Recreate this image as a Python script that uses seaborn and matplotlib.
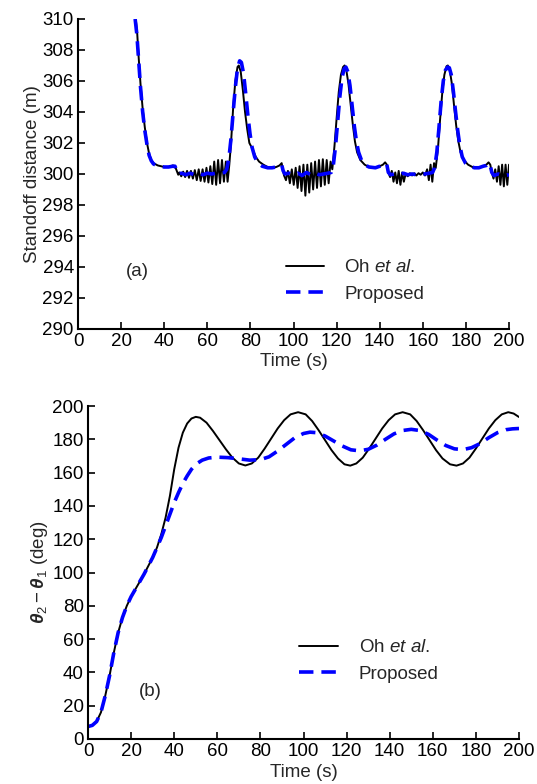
import numpy as np
import pandas as pd
import matplotlib
matplotlib.use("Agg")
import matplotlib.pyplot as plt
import seaborn as sns

sns.set_style("ticks")
plt.rcParams['font.family'] = ['Liberation Sans', 'DejaVu Sans']
plt.rcParams['mathtext.fontset'] = 'custom'
plt.rcParams['mathtext.rm'] = 'Liberation Sans'
plt.rcParams['mathtext.it'] = 'Liberation Sans:italic'
plt.rcParams['mathtext.bf'] = 'Liberation Sans:bold'
plt.rcParams['mathtext.bfit'] = 'Liberation Sans:italic:bold'

# === (a) standoff distance ===
oh_a_t = [26.8, 27.5, 28.0, 29.0, 30.0, 31.0, 32.0, 33.0, 34.0, 35.0, 37.0, 40.0, 42.0, 44.0, 45.0, 45.8, 46.5,
          47.0, 47.9, 48.8, 49.7, 50.6, 51.5, 52.4, 53.3, 54.2, 55.1, 56.0, 56.9, 57.8, 58.7, 59.6, 60.5, 61.4,
          62.3, 63.2, 64.1, 65.0, 65.9, 66.8, 67.7, 68.6, 69.4, 70.2,
          71.0, 72.0, 73.0, 74.0, 74.6, 75.5, 76.5, 77.5, 78.5, 79.5, 81.0, 82.5, 84.0, 86.0, 88.0, 90.0, 92.0,
          93.5, 94.5, 95.0, 95.6,
          96.5, 97.4, 98.3, 99.2, 100.1, 101.0, 101.9, 102.8, 103.7, 104.6, 105.5, 106.4, 107.3, 108.2, 109.1,
          110.0, 110.9, 111.8, 112.7, 113.6, 114.5, 115.4, 116.3, 117.2, 118.0,
          119.0, 120.0, 121.0, 122.0, 123.0, 123.7, 124.5, 125.5, 126.5, 127.5, 128.5, 129.5, 131.0, 133.0,
          135.0, 138.0, 140.0, 141.5, 142.5, 143.3, 144.0,
          144.8, 145.6, 146.4, 147.2, 148.0, 148.8, 149.6, 150.4, 151.2, 152.0, 153.0, 154.0, 155.0, 156.0,
          157.0, 158.0, 159.0, 160.0, 161.0, 162.0, 162.8, 163.6, 164.4, 165.2, 166.0,
          167.0, 168.0, 169.0, 170.0, 171.0, 171.6, 172.5, 173.5, 174.5, 175.5, 176.5, 177.5, 179.0, 181.0,
          183.0, 186.0, 188.0, 189.5, 190.5, 191.3, 192.0,
          192.8, 193.6, 194.4, 195.2, 196.0, 196.8, 197.6, 198.4, 199.2, 200.0]
oh_a_y = [310.0, 309.0, 307.8, 305.8, 304.2, 303.0, 302.0, 301.3, 300.9, 300.7, 300.55, 300.45, 300.45, 300.55, 300.5, 300.2, 299.95,
          300.1, 299.85, 300.15, 299.8, 300.2, 299.75, 300.2, 299.7, 300.25, 299.6, 300.3, 299.55, 300.3, 299.5, 300.4, 299.45, 300.5,
          299.35, 300.8, 299.3, 300.9, 299.4, 300.9, 299.5, 300.8, 299.5, 300.6,
          302.0, 304.3, 306.0, 306.9, 307.0, 306.6, 305.4, 304.0, 302.9, 302.0, 301.6, 301.1, 300.8, 300.6, 300.45, 300.4, 300.45,
          300.55, 300.7, 300.3, 299.9,
          299.6, 300.2, 299.4, 300.3, 299.3, 300.4, 299.1, 300.5, 298.9, 300.6, 298.6, 300.6, 298.8, 300.7, 299.0,
          300.8, 299.1, 300.9, 299.2, 300.95, 299.3, 300.9, 299.4, 300.8, 300.3,
          301.8, 303.6, 305.3, 306.4, 306.9, 307.0, 306.7, 305.8, 304.5, 303.2, 302.1, 301.4, 300.9, 300.6,
          300.45, 300.4, 300.5, 300.6, 300.75, 300.6, 300.1,
          299.8, 300.2, 299.5, 300.1, 299.4, 300.2, 299.3, 300.1, 299.5, 300.0, 299.85, 300.05, 299.9, 300.05,
          299.9, 300.05, 299.95, 300.1, 299.9, 300.3, 299.6, 300.6, 299.5, 300.7, 300.4,
          301.6, 303.5, 305.2, 306.4, 306.95, 307.0, 306.7, 305.8, 304.4, 303.1, 302.1, 301.4, 300.9, 300.6,
          300.45, 300.4, 300.5, 300.6, 300.75, 300.6, 300.1,
          299.7, 300.3, 299.5, 300.5, 299.3, 300.6, 299.2, 300.6, 299.3, 300.6]

prop_a_t = [26.5, 27.3, 28.0, 29.0, 30.0, 31.0, 32.0, 33.0, 34.0, 35.0, 37.0, 40.0, 42.0, 44.0, 45.0, 45.8, 46.5,
            48.0, 50.0, 52.0, 54.0, 56.0, 58.0, 60.0, 62.0, 64.0, 66.0, 68.0, 69.0,
            70.0, 71.0, 72.0, 73.0, 74.0, 75.0, 75.8, 76.8, 77.8, 78.8, 79.8, 80.8, 82.0, 83.5, 85.5, 88.0, 90.0,
            92.0, 93.5, 94.5, 95.2, 96.0,
            98.0, 100.0, 102.0, 104.0, 106.0, 108.0, 110.0, 112.0, 114.0, 116.0, 117.5,
            118.5, 119.5, 120.5, 121.5, 122.5, 123.5, 124.3, 125.2, 126.2, 127.2, 128.2, 129.2, 130.2, 131.5, 133.0,
            135.0, 138.0, 140.0, 141.5, 142.5, 143.3, 144.0,
            145.0, 147.0, 149.0, 151.0, 153.0, 155.0, 157.0, 159.0, 161.0, 163.0, 164.5,
            165.5, 166.5, 167.5, 168.5, 169.5, 170.5, 171.5, 172.3, 173.2, 174.2, 175.2, 176.2, 177.2, 178.3, 179.8,
            181.5, 184.0, 186.0, 188.0, 189.5, 190.5, 191.3, 192.0,
            193.0, 195.0, 197.0, 199.0, 200.0]
prop_a_y = [310.0, 309.0, 307.6, 305.6, 304.0, 302.8, 301.9, 301.2, 300.85, 300.65, 300.5, 300.45, 300.45, 300.5, 300.5, 300.2, 300.0,
            300.05, 299.95, 300.05, 299.95, 300.05, 299.95, 300.05, 300.0, 300.05, 300.05, 300.1, 300.3,
            301.0, 302.3, 304.0, 305.6, 306.8, 307.3, 307.2, 306.5, 305.2, 303.8, 302.6, 301.7, 301.1, 300.7, 300.5, 300.4, 300.4,
            300.45, 300.55, 300.6, 300.2, 300.0,
            300.05, 299.95, 300.05, 299.9, 300.1, 299.95, 300.05, 299.95, 300.0, 300.05, 300.1,
            300.6, 301.8, 303.4, 305.0, 306.2, 306.8, 306.9, 306.6, 305.7, 304.4, 303.1, 302.1, 301.4, 300.9, 300.6,
            300.45, 300.4, 300.5, 300.6, 300.7, 300.6, 300.1,
            299.95, 300.0, 299.95, 300.05, 299.95, 300.0, 299.95, 300.0, 300.0, 300.05, 300.1,
            300.4, 301.4, 303.0, 304.7, 306.0, 306.7, 306.9, 306.85, 306.4, 305.3, 304.0, 302.8, 301.8, 301.1, 300.7,
            300.5, 300.4, 300.4, 300.5, 300.55, 300.7, 300.55, 300.1,
            299.9, 300.0, 299.9, 299.95, 299.9]

# === (b) relative angle ===
oh_b_t = [0, 2, 4, 6, 8, 10, 12, 14, 16, 18, 20, 22, 24, 26, 28, 30, 32, 34, 36, 38, 40, 42, 44, 46, 48, 50,
          52, 55, 58, 61, 64, 67, 70, 73, 76, 79, 82, 85, 88, 91, 94, 97.5, 101, 104, 107, 110, 113, 116, 119,
          121.7, 124.5, 127.5, 130.5, 133.5, 136.5, 139.5, 142.5, 146, 149.5, 152.5, 155.5, 158.5, 161.5,
          164.5, 168, 171, 174, 177, 180, 183, 186, 189, 192, 195, 197.5, 200]
oh_b_y = [7.5, 8.2, 10.5, 16, 26, 38, 52, 64, 73, 80, 85.5, 90, 94.5, 99, 104, 109, 115, 123, 133, 146, 162,
          175, 184, 189.5, 192.5, 193.5, 193, 190, 185, 179.5, 174, 169, 165.5, 164.3, 165.5, 169, 174.5, 180.5,
          186.5, 191.5, 195, 196.3, 195, 191, 185.5, 179.5, 173.5, 168.5, 165, 164.2, 165.5, 169, 174.5, 180.5,
          186.5, 191.5, 195, 196.3, 195, 191, 185.5, 179.5, 173.5, 168.5, 165, 164.2, 165.5, 169, 174.5, 180.5,
          186.5, 191.5, 195, 196.3, 195.5, 193.4]

prop_b_t = [0, 2, 4, 6, 8, 10, 12, 14, 16, 18, 20, 22, 24, 26, 28, 30, 32, 34, 36, 38, 40, 42, 44, 46, 48, 50,
            53, 56, 60, 65, 70, 75, 80, 84, 88, 92, 96, 100, 103, 106, 110, 114, 118, 122, 126, 130, 134, 138,
            142, 146, 150, 154, 158, 162, 166, 170, 174, 178, 182, 186, 190, 194, 197, 200]
prop_b_y = [7.5, 8.2, 10.5, 16, 26, 38, 52, 64, 73, 80, 85.5, 90, 94.5, 99, 104, 109, 115, 121, 128, 135, 142,
            148, 153.5, 158, 162, 165, 167.5, 168.8, 169.3, 169, 168.3, 167.5, 167.8, 169.5, 173, 177, 181, 183.5,
            184.3, 184, 182, 179, 176, 173.7, 173.1, 174, 176.5, 180, 183.3, 185.3, 186, 185.3, 183, 179.5, 176.3,
            174.3, 173.8, 175, 177.5, 181, 184, 185.8, 186.3, 186.5]

labels = ["Oh $\\mathit{et\\ al}$.", "Proposed"]
fs = 13.5

fig = plt.figure(figsize=(5.37, 7.84), dpi=100)
ax1 = fig.add_axes([0.1453, 0.5804, 0.8026, 0.3954])
ax2 = fig.add_axes([0.1639, 0.0574, 0.8026, 0.4247])


def draw(ax, t1, y1, t2, y2):
    sns.lineplot(x=t1, y=y1, ax=ax, color='black', lw=1.4, label=labels[0])
    sns.lineplot(x=t2, y=y2, ax=ax, color='#0000ff', lw=2.6, label=labels[1])
    ax.lines[1].set_dashes([4.0, 2.2])
    for s in ['top', 'right']:
        ax.spines[s].set_visible(False)
    for s in ['left', 'bottom']:
        ax.spines[s].set_linewidth(1.5)
        ax.spines[s].set_color('black')
    ax.tick_params(direction='in', length=5, width=1.2, labelsize=fs, pad=3, colors='black')
    ax.set_xlim(0, 200)
    ax.set_xticks(np.arange(0, 201, 20))
    ax.set_xlabel("Time (s)", fontsize=fs, labelpad=2)


draw(ax1, oh_a_t, oh_a_y, prop_a_t, prop_a_y)
ax1.set_ylim(290, 310)
ax1.set_yticks(np.arange(290, 311, 2))
ax1.set_ylabel("Standoff distance (m)", fontsize=fs, labelpad=1)
ax1.text(27.4, 293.7, "(a)", fontsize=fs, ha='center', va='center')
ax1.legend(loc='upper left', bbox_to_anchor=(0.466, 0.25), frameon=False, fontsize=fs,
           handlelength=2.0, handletextpad=1.1, labelspacing=0.5, borderaxespad=0)

draw(ax2, oh_b_t, oh_b_y, prop_b_t, prop_b_y)
ax2.set_ylim(0, 200)
ax2.set_yticks(np.arange(0, 201, 20))
ax2.set_ylabel("$\\mathbfit{\\theta}_2 - \\mathbfit{\\theta}_1$ (deg)", fontsize=fs, labelpad=2)
ax2.xaxis.labelpad = 3
ax2.text(28.8, 28.4, "(b)", fontsize=fs, ha='center', va='center')
ax2.legend(loc='upper left', bbox_to_anchor=(0.471, 0.322), frameon=False, fontsize=fs,
           handlelength=2.1, handletextpad=1.1, labelspacing=0.5, borderaxespad=0)

fig.savefig("out.png", dpi=100)
